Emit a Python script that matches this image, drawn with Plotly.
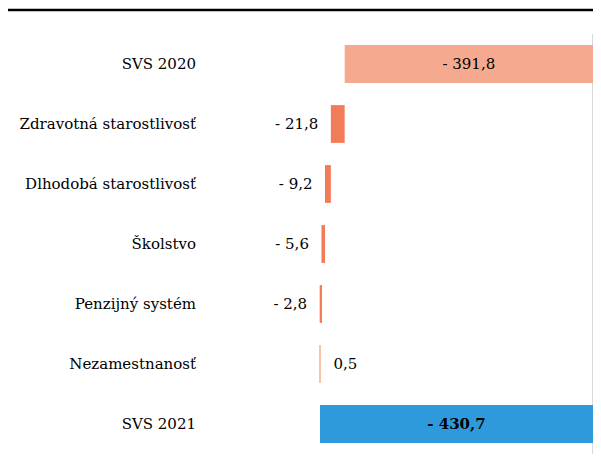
import plotly.graph_objects as go

categories = ['SVS 2020', 'Zdravotná starostlivosť', 'Dlhodobá starostlivosť',
              'Školstvo', 'Penzijný systém', 'Nezamestnanosť', 'SVS 2021']
values = [-391.8, -21.8, -9.2, -5.6, -2.8, 0.5, -430.7]
measures = ['absolute', 'relative', 'relative', 'relative', 'relative', 'relative', 'total']

# bases for the waterfall steps
bases = []
running = 0
for v, m in zip(values, measures):
    if m == 'relative':
        bases.append(running)
        running += v
    else:
        bases.append(0)
        running = v

def fmt(v):
    s = f"{abs(v):.1f}".replace('.', ',')
    return f"- {s}" if v < 0 else s

pad = '\u00a0\u00a0'
labels = []
for v, m in zip(values, measures):
    t = fmt(v)
    if m == 'relative':
        t = t + pad if v < 0 else pad + t
    labels.append(t)
labels[-1] = '<b>' + labels[-1] + '</b>'

colors = ['#F5A98F', '#F27C57', '#F27C57', '#F27C57', '#F27C57', '#F8C3AC', '#2E9ADB']
positions = ['inside', 'outside', 'outside', 'outside', 'outside', 'outside', 'inside']

serif = "DejaVu Serif"

fig = go.Figure()
fig.add_trace(go.Bar(
    y=categories, x=values, base=bases, orientation='h',
    marker=dict(color=colors, line=dict(width=0)),
    text=labels, textposition=positions,
    insidetextanchor='middle', constraintext='none', cliponaxis=False,
    textfont=dict(family=serif, size=15, color='black'),
    width=0.63,
))

fig.update_layout(
    width=593, height=458,
    plot_bgcolor='white', paper_bgcolor='white',
    margin=dict(l=199, r=8, t=26, b=12),
    showlegend=False,
    font=dict(family=serif, size=15, color='black'),
    shapes=[dict(type='line', xref='paper', yref='paper',
                 x0=-0.52, x1=1.03, y0=1.057, y1=1.057,
                 line=dict(color='black', width=2.5))],
)
fig.update_xaxes(range=[-609, 0], showticklabels=False, showgrid=False,
                 zeroline=True, zerolinecolor='#D9D9D9', zerolinewidth=1.5)
fig.update_yaxes(autorange='reversed', showgrid=False, ticks='',
                 ticklabelstandoff=10, tickfont=dict(family=serif, size=15))

fig.write_html("out.html")
